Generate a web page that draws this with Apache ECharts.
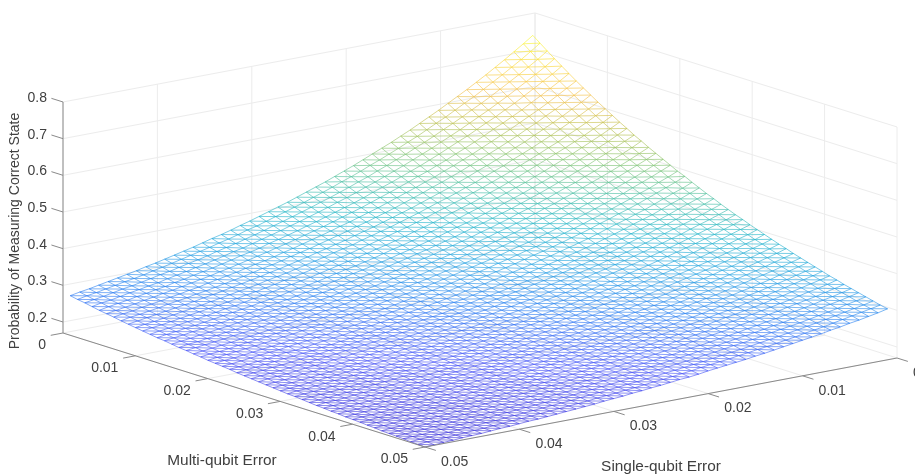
<!DOCTYPE html>
<html><head><meta charset="utf-8">
<style>html,body{margin:0;padding:0;background:#fff}#c{width:915px;height:475px}</style>
<script src="https://cdn.jsdelivr.net/npm/echarts@6/dist/echarts.min.js"></script>
</head><body><div id="c"></div>
<script>
const multiError = [0.001,0.002,0.003,0.004,0.005,0.006,0.007,0.008,0.009,0.010,0.011,0.012,0.013,0.014,0.015,0.016,0.017,0.018,0.019,0.020,0.021,0.022,0.023,0.024,0.025,0.026,0.027,0.028,0.029,0.030,0.031,0.032,0.033,0.034,0.035,0.036,0.037,0.038,0.039,0.040,0.041,0.042,0.043,0.044,0.045,0.046,0.047,0.048,0.049,0.050];
const singleError = multiError.slice();
const multiTicks = [0,0.01,0.02,0.03,0.04,0.05];
const singleTicks = [0,0.01,0.02,0.03,0.04,0.05];
const zTicks = [0.2,0.3,0.4,0.5,0.6,0.7,0.8];
// Probability in thousandths: one row per multi-qubit error, one column per single-qubit error
const probability = [
[750,732,715,698,682,666,651,636,622,608,594,581,568,555,543,531,520,509,498,487,477,467,457,448,439,430,421,413,405,397,389,382,374,367,361,354,347,341,335,329,323,318,312,307,302,297,292,287,283,278],
[735,717,700,684,668,653,638,623,610,596,582,570,557,544,533,521,510,499,489,478,468,459,449,440,431,422,414,406,398,390,382,376,368,361,355,348,342,336,330,324,318,313,307,302,298,293,288,283,279,274],
[720,702,686,670,655,640,625,611,598,584,571,559,546,534,523,511,501,490,480,469,460,450,441,432,424,415,407,399,391,384,376,369,362,355,349,343,336,330,325,319,313,309,303,298,293,289,284,279,275,271],
[705,688,672,657,642,627,613,599,586,573,560,548,536,524,513,502,491,481,471,461,452,442,433,425,416,408,400,392,385,377,370,363,356,349,344,337,331,325,320,314,309,304,298,294,289,285,280,275,272,267],
[691,674,659,644,629,614,601,587,575,562,549,538,526,514,503,492,482,472,462,453,444,434,425,417,409,401,393,386,378,371,364,358,350,344,339,332,326,320,315,310,304,300,294,290,285,281,276,272,268,263],
[677,661,646,631,617,602,589,576,564,551,539,527,516,504,494,483,474,464,454,445,436,427,418,410,402,394,386,379,372,365,358,352,345,339,333,327,321,316,310,305,300,295,290,286,281,277,272,268,264,260],
[663,648,633,618,604,591,578,565,553,541,529,517,506,495,485,474,465,455,446,437,428,419,411,403,395,388,380,373,366,359,352,346,339,333,328,322,316,311,306,301,295,291,286,282,277,273,269,264,261,257],
[650,635,620,606,593,579,567,554,542,530,519,508,497,486,476,466,457,447,438,429,420,412,404,396,389,381,374,367,360,353,347,341,334,328,323,317,311,306,301,296,291,287,282,278,274,269,265,261,258,253],
[637,622,608,594,581,568,556,543,532,520,509,498,488,477,467,457,448,439,430,421,413,405,397,389,382,375,367,361,354,348,341,335,329,323,318,312,307,302,297,292,287,283,278,274,270,266,262,258,254,250],
[624,610,596,583,570,557,545,533,522,511,499,489,479,468,459,449,440,432,423,414,406,398,390,383,376,369,361,355,349,342,336,330,324,318,313,308,302,297,293,288,283,279,274,270,266,262,258,254,251,247],
[612,598,584,571,559,546,535,523,512,501,490,480,470,460,451,441,433,424,416,407,399,391,384,377,370,363,356,349,343,337,331,325,319,313,309,303,298,293,289,284,279,275,271,267,263,259,255,251,248,244],
[600,586,573,560,548,536,525,514,503,492,481,471,461,452,442,433,425,417,408,400,392,385,377,370,363,357,350,344,338,332,326,320,314,309,304,299,294,289,285,280,275,272,267,263,259,256,252,248,245,241],
[588,575,562,550,538,526,515,504,493,483,472,463,453,444,435,426,418,409,401,393,386,378,371,364,358,351,344,338,332,327,321,315,309,304,300,295,289,285,281,276,272,268,264,260,256,252,249,245,242,238],
[577,564,551,539,527,516,505,494,484,474,464,454,445,436,427,418,410,402,395,387,379,372,365,358,352,345,339,333,327,322,316,311,305,300,295,290,285,281,277,272,268,264,260,256,253,249,246,242,239,236],
[565,553,541,529,518,506,496,485,475,465,455,446,437,428,420,411,403,396,388,380,373,366,359,353,346,340,334,328,322,317,311,306,300,296,291,286,281,277,273,269,265,261,257,253,250,246,243,239,236,233],
[555,542,530,519,508,497,487,476,467,457,447,438,429,421,412,404,396,389,381,374,367,360,353,347,341,335,328,323,317,312,306,302,296,291,287,282,278,273,269,265,261,258,254,250,247,243,240,236,234,230],
[544,532,520,509,498,488,478,468,458,449,439,431,422,413,405,397,390,382,375,368,361,354,348,342,335,329,323,318,313,307,302,297,292,287,283,279,274,270,266,262,258,254,250,247,244,240,237,234,231,228],
[534,522,511,500,489,479,469,459,450,441,432,423,415,406,398,390,383,376,369,362,355,349,342,336,330,324,319,313,308,303,298,293,288,283,279,275,270,266,262,258,254,251,247,244,241,237,234,231,228,225],
[524,512,501,490,480,470,460,451,442,433,424,416,407,399,392,384,377,370,363,356,349,343,337,331,325,319,314,309,304,298,293,289,284,279,275,271,267,263,259,255,251,248,244,241,238,235,231,228,226,223],
[514,503,492,482,472,461,452,443,434,425,417,408,400,392,385,377,371,364,357,350,344,338,332,326,320,314,309,304,299,295,290,285,280,276,272,268,263,259,257,252,248,245,241,238,235,232,229,226,223,220],
[504,493,483,472,463,453,444,435,426,418,409,401,393,386,378,371,365,358,351,345,338,332,327,321,315,310,305,300,295,290,285,280,276,272,268,264,259,256,253,249,245,242,238,235,232,229,226,223,221,218],
[496,485,475,465,455,445,436,428,419,411,402,394,387,379,372,365,359,352,345,339,333,327,322,316,311,305,300,295,291,286,281,277,272,268,264,260,257,253,249,246,242,239,236,232,230,227,224,221,218,216],
[486,475,466,456,446,436,428,419,411,403,394,386,379,372,365,358,352,345,339,333,327,322,316,311,306,300,295,290,286,281,277,272,268,264,260,257,253,249,246,243,239,235,232,231,227,224,221,218,216,214],
[477,467,457,448,438,428,420,412,403,395,387,379,372,365,359,352,346,340,334,327,322,316,311,306,301,295,291,286,281,277,273,268,265,260,257,253,249,246,243,239,236,232,230,227,225,222,219,216,214,211],
[468,458,449,440,430,421,413,405,397,388,380,373,366,359,353,346,340,334,328,322,317,311,306,301,297,291,287,282,277,273,269,265,261,258,254,250,247,243,240,237,234,230,228,225,222,219,217,214,212,209],
[460,450,441,432,423,414,407,398,391,383,374,367,362,354,348,342,336,330,324,319,313,308,303,298,293,288,283,279,275,271,266,263,258,255,251,248,244,241,238,235,231,228,225,222,220,217,214,212,210,207],
[451,442,433,424,416,408,400,392,384,377,369,362,356,349,343,337,331,325,320,314,309,304,299,294,289,284,280,275,271,267,263,259,255,252,248,246,241,238,235,232,228,226,223,220,218,215,212,210,208,205],
[443,434,425,417,409,400,393,385,378,371,364,357,351,344,338,332,326,321,315,310,304,299,295,290,285,280,276,272,268,263,260,256,252,248,245,242,239,235,232,229,226,223,220,218,215,213,210,207,205,203],
[435,426,418,410,402,394,386,379,372,365,358,352,345,339,333,327,321,316,310,305,300,295,290,285,281,276,272,268,264,260,256,253,249,245,242,239,235,232,229,226,223,221,218,215,213,210,208,205,203,201],
[428,419,411,402,395,387,380,373,366,359,352,346,340,333,327,322,316,311,306,300,296,291,286,281,277,273,268,264,261,257,253,249,246,242,239,236,233,230,227,224,221,218,216,213,211,208,206,203,201,199],
[420,412,404,396,388,381,373,366,360,353,347,340,334,328,322,317,312,306,301,296,291,287,282,277,273,269,265,261,257,254,250,246,243,239,236,233,230,227,224,221,219,216,213,211,209,206,204,201,200,197],
[413,404,397,389,381,374,367,360,354,347,341,335,329,323,318,312,307,302,297,292,287,283,278,274,270,266,262,258,254,250,247,243,240,237,234,231,227,224,222,219,216,214,211,209,207,204,202,200,198,196],
[406,397,390,382,375,368,361,355,348,342,336,330,324,318,313,307,302,298,293,288,283,279,274,270,266,262,258,254,251,247,244,240,237,234,231,228,225,222,219,217,214,212,209,207,205,202,200,198,196,194],
[399,391,384,376,369,362,355,349,343,337,331,325,319,313,308,303,298,293,288,284,279,275,271,267,263,259,255,251,248,244,241,238,234,231,228,225,222,220,217,215,212,210,207,205,203,200,198,196,194,192],
[392,384,377,370,363,356,350,343,337,331,325,320,314,309,304,299,294,289,284,280,275,271,267,263,259,255,252,248,245,241,238,235,231,228,226,223,220,217,215,212,210,207,205,203,201,199,196,194,193,190],
[386,378,371,364,357,351,344,338,332,326,321,315,310,304,299,294,290,285,281,276,272,268,263,260,256,252,248,245,242,238,235,232,229,226,223,220,218,215,213,210,208,205,203,201,199,197,195,193,191,189],
[379,372,365,358,351,345,339,333,327,321,316,310,305,300,295,290,286,281,277,272,268,264,260,256,253,249,245,242,239,236,232,229,226,223,221,218,215,213,210,208,206,203,201,199,197,195,193,191,189,187],
[373,366,359,352,346,340,334,328,322,316,311,306,301,296,291,286,282,277,273,269,265,261,257,253,249,246,242,239,236,233,230,227,224,221,219,216,213,211,208,206,204,202,199,197,195,193,191,189,188,186],
[367,360,353,347,340,334,328,323,317,312,306,301,296,291,287,282,278,273,269,265,261,257,253,250,246,243,239,236,233,230,227,224,221,219,216,214,211,209,206,204,202,200,197,195,194,192,190,188,186,184],
[361,354,348,341,335,329,323,318,312,307,302,297,292,287,283,278,274,270,266,262,258,254,250,247,243,240,236,234,231,228,225,222,219,216,214,211,209,207,204,202,200,198,196,194,192,190,188,186,185,183],
[355,348,342,336,330,324,318,313,308,302,297,293,288,283,279,274,270,266,262,258,254,251,247,244,240,237,234,231,228,225,222,219,216,214,212,209,207,205,202,200,198,196,194,192,191,189,187,185,183,182],
[349,343,337,331,325,319,314,308,303,298,293,289,284,279,275,271,267,263,259,255,251,248,244,241,237,234,231,228,225,222,220,217,214,212,210,207,205,203,200,198,196,194,193,191,189,187,185,184,182,180],
[344,337,331,326,320,314,309,304,299,294,289,285,280,275,271,267,263,259,255,252,248,245,241,238,235,232,229,226,223,220,217,215,212,210,208,205,203,201,198,196,194,193,191,189,187,185,184,182,180,179],
[338,332,326,320,315,310,305,299,295,290,285,281,276,272,268,264,260,256,252,249,245,242,238,235,232,229,226,223,221,218,215,213,210,208,206,203,201,199,197,195,193,191,189,187,186,184,182,180,179,177],
[333,327,321,316,310,305,300,295,290,286,281,277,272,268,264,260,256,253,249,245,242,239,236,233,230,227,224,221,218,216,213,211,208,206,204,201,199,197,195,193,191,189,187,186,184,182,181,179,178,176],
[328,322,316,311,306,301,296,291,286,282,277,273,269,265,261,257,253,250,246,243,239,236,233,230,227,224,221,219,216,213,211,208,206,204,202,199,197,195,193,191,189,188,186,184,182,181,179,178,176,175],
[323,317,312,306,301,296,291,286,282,278,274,269,265,261,258,254,250,247,243,240,237,234,231,228,225,222,219,216,214,211,209,206,204,202,200,198,196,194,192,190,188,186,184,183,181,180,178,176,175,174],
[318,312,307,302,297,292,287,283,278,274,270,266,262,258,254,251,247,244,240,237,234,231,228,225,222,219,217,214,212,209,207,205,202,200,198,196,194,192,190,188,186,185,183,181,180,178,177,175,174,172],
[313,308,303,298,293,288,283,279,275,270,266,262,258,255,251,248,244,241,238,235,231,228,225,222,220,217,214,212,209,207,205,202,200,198,196,194,192,190,188,187,185,183,181,180,178,177,175,174,173,171],
[309,303,298,293,289,284,280,275,271,267,263,259,255,251,248,244,241,238,235,232,228,225,223,220,217,215,212,210,207,205,203,200,198,196,194,192,190,188,187,185,183,182,180,178,177,176,174,173,171,170]
];
const xLabel = 'Multi-qubit Error';
const yLabel = 'Single-qubit Error';
const zLabel = 'Probability of Measuring Correct State';
const parula = [[62,50,215],[71,84,247],[40,125,242],[30,160,225],[30,180,200],[70,190,160],[130,195,105],[190,190,70],[245,190,70],[250,215,50],[249,251,40]];

// View of the box: orthographic projection onto the page
const view = {ox:535, oy:244, mx:362, my:114, sx:-472, sy:89, zs:366.7, zFloor:0.17, zTop:0.8, range:0.05, zLo:0.17, zHi:0.75};
function project(m,s,z){
  const u=m/view.range, v=s/view.range;
  return [view.ox+view.mx*u+view.sx*v, view.oy+view.my*u+view.sy*v-view.zs*(z-view.zFloor)];
}
function colorOf(z){
  const t=Math.max(0,Math.min(1,(z-view.zLo)/(view.zHi-view.zLo)))*(parula.length-1);
  const i=Math.min(parula.length-2,Math.floor(t)),f=t-i,a=parula[i],b=parula[i+1];
  return 'rgb('+[0,1,2].map(k=>Math.round(a[k]+(b[k]-a[k])*f)).join(',')+')';
}
function seg(p,q,extra){return [p[0],p[1],q[0],q[1],extra];}

// surface mesh: two grid directions and one diagonal
const meshSegs=[];
const P=(i,j)=>project(multiError[i],singleError[j],probability[i][j]/1000);
const Z=(i,j)=>probability[i][j]/1000;
for(let i=0;i<multiError.length;i++)for(let j=0;j<singleError.length;j++){
  if(i+1<multiError.length) meshSegs.push(seg(P(i,j),P(i+1,j),(Z(i,j)+Z(i+1,j))/2));
  if(j+1<singleError.length) meshSegs.push(seg(P(i,j),P(i,j+1),(Z(i,j)+Z(i,j+1))/2));
  if(i+1<multiError.length&&j+1<singleError.length) meshSegs.push(seg(P(i+1,j),P(i,j+1),(Z(i+1,j)+Z(i,j+1))/2));
}
// walls and floor
const R=view.range,F=view.zFloor,T=view.zTop;
const gridSegs=[];
singleTicks.forEach(s=>{
  gridSegs.push(seg(project(0,s,F),project(0,s,T)));
  gridSegs.push(seg(project(0,s,F),project(R,s,F)));
});
multiTicks.forEach(m=>{
  gridSegs.push(seg(project(m,0,F),project(m,0,T)));
  gridSegs.push(seg(project(m,0,F),project(m,R,F)));
});
zTicks.forEach(z=>{
  gridSegs.push(seg(project(0,R,z),project(0,0,z)));
  gridSegs.push(seg(project(0,0,z),project(R,0,z)));
});
// axes and ticks
const tickZ=0.0016, tickM=0.0013, tickS=0.0015;
const axisSegs=[];
axisSegs.push(seg(project(0,R,F),project(0,R,T)));
axisSegs.push(seg(project(0,R,F),project(R,R,F)));
axisSegs.push(seg(project(R,R,F),project(R,0,F)));
zTicks.forEach(z=>axisSegs.push(seg(project(0,R,z),project(-tickZ,R,z))));
multiTicks.forEach(m=>axisSegs.push(seg(project(m,R,F),project(m,R+tickM,F))));
singleTicks.forEach(s=>axisSegs.push(seg(project(R,s,F),project(R+tickS,s,F))));
// text: x, y, string, alignment, rotation, font size
const texts=[];
zTicks.forEach(z=>{const p=project(0,R,z);texts.push([p[0]-16,p[1]-4,String(z),'right',0,14]);});
multiTicks.forEach(m=>{const p=project(m,R,F);texts.push([p[0]-17,p[1]+12.5,String(m),'right',0,14]);});
singleTicks.forEach(s=>{const p=project(R,s,F);texts.push([p[0]+16,p[1]+15,String(s),'left',0,14]);});
texts.push([222,461,xLabel,'center',0,15.4],[661,467,yLabel,'center',0,15.4],[15,231,zLabel,'center',90,14]);

const lineItem=(style)=>function(params,api){
  const a=api.coord([api.value(0),api.value(1)]),b=api.coord([api.value(2),api.value(3)]);
  return {type:'line',silent:true,shape:{x1:a[0],y1:a[1],x2:b[0],y2:b[1]},style:style(api)};
};
const chart=echarts.init(document.getElementById('c'),null,{renderer:'canvas'});
chart.setOption({
  animation:false,
  backgroundColor:'#fff',
  grid:{left:0,right:0,top:0,bottom:0},
  xAxis:{type:'value',min:0,max:915,show:false},
  yAxis:{type:'value',min:0,max:475,inverse:true,show:false},
  series:[
    {type:'custom',silent:true,progressive:0,clip:false,data:gridSegs,
     renderItem:lineItem(()=>({stroke:'#ececec',lineWidth:1,fill:null}))},
    {type:'custom',silent:true,progressive:0,clip:false,data:meshSegs,
     renderItem:lineItem(api=>({stroke:colorOf(api.value(4)),lineWidth:0.75,opacity:0.8,fill:null}))},
    {type:'custom',silent:true,progressive:0,clip:false,data:axisSegs,
     renderItem:lineItem(()=>({stroke:'#8a8a8a',lineWidth:1,fill:null}))},
    {type:'custom',silent:true,progressive:0,clip:false,
     data:texts.map(t=>[t[0],t[1]]),
     renderItem:function(params,api){
       const d=texts[params.dataIndex];
       const p=api.coord([d[0],d[1]]);
       return {type:'text',silent:true,x:p[0],y:p[1],rotation:d[4]*Math.PI/180,
         style:{text:d[2],align:d[3],verticalAlign:'middle',fill:'#404040',font:d[5]+'px "Liberation Sans", Arial, sans-serif'}};
     }}
  ]
});
</script></body></html>
